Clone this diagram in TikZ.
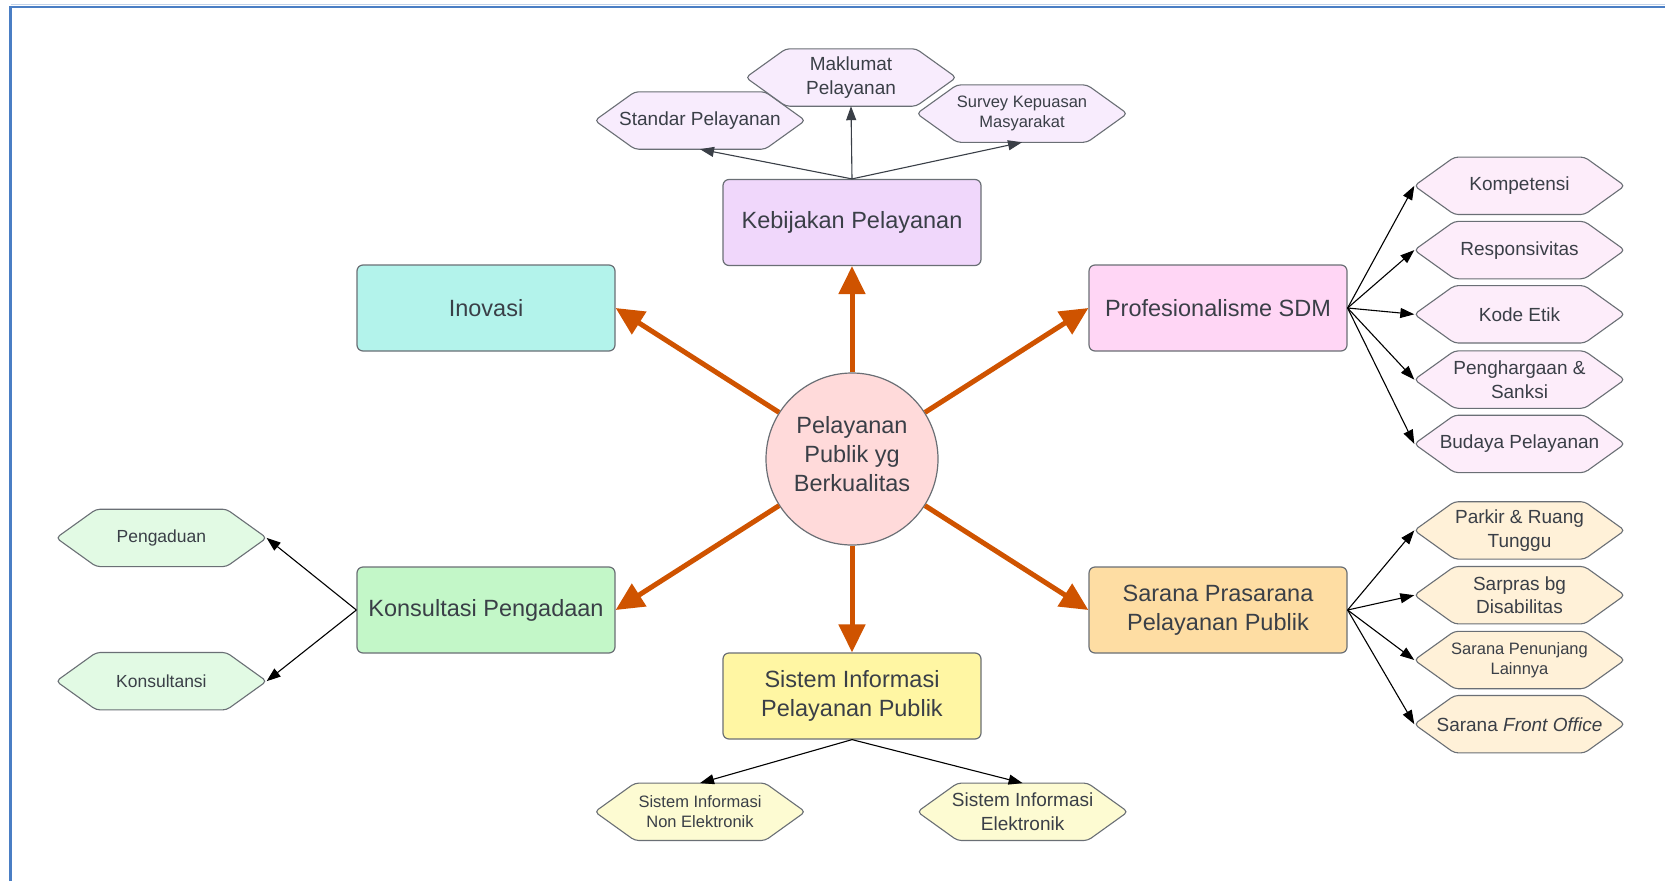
\documentclass[tikz,border=0pt]{standalone}
\usepackage{fontspec}
\setmainfont{Liberation Sans}
\usetikzlibrary{arrows.meta}
\pgfdeclarelayer{background}
\pgfsetlayers{background,main}
\definecolor{frameblue}{HTML}{4A7EC4}
\definecolor{framelight}{HTML}{C2D3EA}
\definecolor{arrowor}{HTML}{CF5300}
\definecolor{edgegray}{HTML}{6A6F75}
\definecolor{textc}{HTML}{3A3F47}
\definecolor{kebfill}{HTML}{F0D7FB}
\definecolor{inofill}{HTML}{B3F3EB}
\definecolor{profill}{HTML}{FFD6F5}
\definecolor{konfill}{HTML}{C3F7C8}
\definecolor{sarfill}{HTML}{FEDDA3}
\definecolor{sisfill}{HTML}{FFF6A3}
\definecolor{cfill}{HTML}{FFDADA}
\definecolor{hexpurple}{HTML}{F8ECFD}
\definecolor{hexpink}{HTML}{FDEDFA}
\definecolor{hexorange}{HTML}{FFF1D8}
\definecolor{hexgreen}{HTML}{E2FAE4}
\definecolor{hexyellow}{HTML}{FDFBD2}
\newcommand\hexat[2]{%
  \path[hexline, fill=#2] (#1.west) -- ([xshift=40pt]#1.north west) -- ([xshift=-40pt]#1.north east) -- (#1.east) -- ([xshift=-40pt]#1.south east) -- ([xshift=40pt]#1.south west) -- cycle;}
\begin{document}
\begin{tikzpicture}[x=1pt,y=-1pt,
  box/.style={draw=edgegray, line width=1.2pt, rounded corners=6pt, minimum width=258pt, minimum height=86pt, inner sep=0pt, align=center, text=textc, font=\fontsize{23.5}{28.7}\selectfont},
  hexnode/.style={minimum width=210pt, minimum height=57pt, inner sep=0pt, align=center, text=textc, font=\fontsize{19}{23.4}\selectfont},
  smallhex/.style={hexnode, font=\fontsize{16.5}{19.5}\selectfont},
  hexline/.style={draw=edgegray, line width=1.1pt, rounded corners=4pt},
  bigarrow/.style={draw=arrowor, line width=5pt, -{Triangle[length=28pt,width=26pt]}},
  thin/.style={draw=black, line width=1.1pt, -{Triangle[length=14pt,width=10pt]}},
  thingray/.style={thin, draw=textc}
]
\useasboundingbox (0,0) rectangle (1665,881);
\draw[framelight, line width=1pt] (10.5,4) -- (1665,4);
\draw[frameblue, line width=2.6pt] (10.5,881) -- (10.5,6.8) -- (1665,6.8);

% central circle
\node[circle, draw=edgegray, line width=1.2pt, fill=cfill, minimum size=172pt, inner sep=0pt, align=center, text=textc, font=\fontsize{23.5}{28.7}\selectfont] (c) at (852,459) {Pelayanan\\Publik yg\\Berkualitas\\[-19pt]\mbox{}};

% main boxes
\node[box, fill=kebfill] (keb) at (852,222.5) {Kebijakan Pelayanan};
\node[box, fill=inofill] (ino) at (486,308) {Inovasi};
\node[box, fill=profill] (pro) at (1218,308) {Profesionalisme SDM};
\node[box, fill=konfill] (kon) at (486,610) {Konsultasi Pengadaan};
\node[box, fill=sarfill] (sar) at (1218,610) {Sarana Prasarana\\Pelayanan Publik};
\node[box, fill=sisfill] (sis) at (852,696) {Sistem Informasi\\Pelayanan Publik};

% top hexagons
\node[hexnode] (std) at (700,120.5) {Standar Pelayanan};
\node[hexnode] (mak) at (851,77.5) {Maklumat\\Pelayanan};
\node[smallhex] (sur) at (1022,113.6) {Survey Kepuasan\\Masyarakat};

% right hexagons (SDM)
\node[hexnode] (kmp) at (1519.5,185.8) {Kompetensi};
\node[hexnode] (rsp) at (1519.5,250.1) {Responsivitas};
\node[hexnode] (kde) at (1519.5,314.3) {Kode Etik};
\node[hexnode] (phg) at (1519.5,379.6) {Penghargaan \&\\Sanksi};
\node[hexnode] (bdy) at (1519.5,443.9) {Budaya Pelayanan};

% right hexagons (Sarana)
\node[hexnode] (prk) at (1519.5,530.4) {Parkir \& Ruang\\Tunggu};
\node[hexnode] (dis) at (1519.5,595.2) {Sarpras bg\\Disabilitas};
\node[smallhex] (pnj) at (1519.5,660) {Sarana Penunjang\\Lainnya};
\node[hexnode] (fro) at (1519.5,724.2) {Sarana \textit{Front Office}};

% left hexagons
\node[hexnode, font=\fontsize{17.5}{21}\selectfont] (adu) at (161.4,537.9) {Pengaduan};
\node[hexnode, font=\fontsize{17.5}{21}\selectfont] (kst) at (161.4,681.2) {Konsultansi};

% bottom hexagons
\node[smallhex] (sne) at (700,811.8) {Sistem Informasi\\Non Elektronik};
\node[hexnode] (sie) at (1022.6,811.8) {Sistem Informasi\\Elektronik};

\begin{pgfonlayer}{background}
\fill[white] (12,8) rectangle (1665,881);
\hexat{std}{hexpurple}\hexat{mak}{hexpurple}\hexat{sur}{hexpurple}
\hexat{kmp}{hexpink}\hexat{rsp}{hexpink}\hexat{kde}{hexpink}\hexat{phg}{hexpink}\hexat{bdy}{hexpink}
\hexat{prk}{hexorange}\hexat{dis}{hexorange}\hexat{pnj}{hexorange}\hexat{fro}{hexorange}
\hexat{adu}{hexgreen}\hexat{kst}{hexgreen}
\hexat{sne}{hexyellow}\hexat{sie}{hexyellow}
\end{pgfonlayer}

% orange arrows
\draw[bigarrow] (c) -- (keb.south);
\draw[bigarrow] (c) -- (ino.east);
\draw[bigarrow] (c) -- (pro.west);
\draw[bigarrow] (c) -- (kon.east);
\draw[bigarrow] (c) -- (sar.west);
\draw[bigarrow] (c) -- (sis.north);

% thin arrows
\draw[thingray] (keb.north) -- (std.south);
\draw[thingray] (keb.north) -- (mak.south);
\draw[thingray] (keb.north) -- (sur.south);
\foreach \t in {kmp,rsp,kde,phg,bdy} \draw[thin] (pro.east) -- (\t.west);
\foreach \t in {prk,dis,pnj,fro} \draw[thin] (sar.east) -- (\t.west);
\draw[thin] (kon.west) -- (adu.east);
\draw[thin] (kon.west) -- (kst.east);
\draw[thin] (sis.south) -- (sne.north);
\draw[thin] (sis.south) -- (sie.north);
\end{tikzpicture}
\end{document}
